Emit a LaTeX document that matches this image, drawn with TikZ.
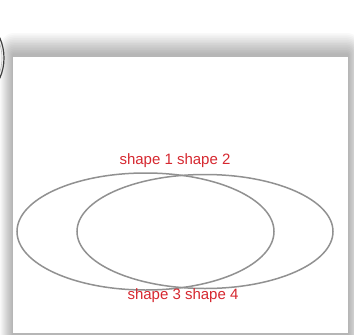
\documentclass[tikz,border=0pt]{standalone}
\usepackage{fontspec}
\setmainfont{Liberation Sans}
\definecolor{labelred}{RGB}{214,40,48}
\definecolor{ringgray}{RGB}{145,145,145}
\tikzset{
  shadowlayer/.style={fill=black, fill opacity=0.022, draw=none},
  ring/.style={draw=ringgray, line width=1.5pt},
  lab/.style={text=labelred, font=\fontsize{15}{17}\selectfont, inner sep=0pt}
}
\begin{document}
\begin{tikzpicture}[x=1pt,y=-1pt]
\useasboundingbox (0,0) rectangle (354,335);
\path[fill=white] (0,0) rectangle (354,335);
\begin{scope}
\clip (0,0) rectangle (354,335);
\foreach \i in {0,...,12}{
  \path[shadowlayer, rounded corners={(14-\i)*1pt}] (\i,33+1.7*\i) rectangle (361-\i,350);
}
\draw[black!75, line width=1.2pt, fill=gray!8] (-46,58) circle (50);
\draw[gray!55, line width=0.6pt] (-46,58) circle (48);
\end{scope}
\path[fill=white] (13,57) rectangle (348,333);
\draw[ring] (145.5,231.5) ellipse [x radius=128.5, y radius=58.5];
\draw[ring] (205,231.5) ellipse [x radius=128, y radius=57];
\node[lab] (top) at (175,161) {shape 1 shape 2};
\node[lab] (bot) at (183,296) {shape 3 shape 4};
\end{tikzpicture}
\end{document}
